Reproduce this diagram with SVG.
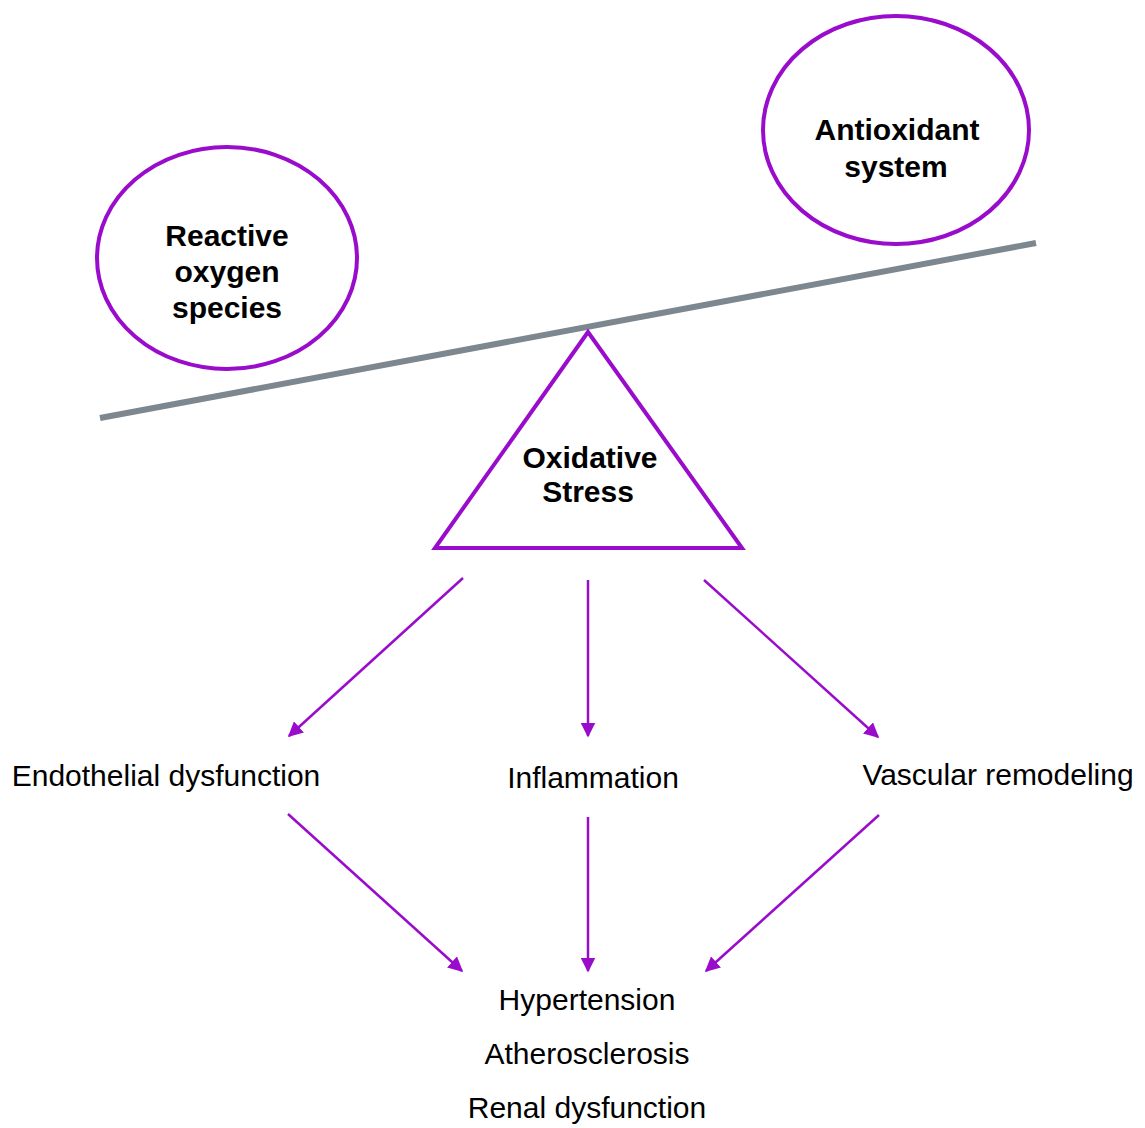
<svg xmlns="http://www.w3.org/2000/svg" width="1145" height="1128" viewBox="0 0 1145 1128">
<defs>
<style>
.node{fill:#fff;stroke:#9a0ccc;stroke-width:4}
.bold{font-family:"Liberation Sans",Arial,sans-serif;font-weight:bold;font-size:30px;fill:#000;text-anchor:middle}
.reg{font-family:"Liberation Sans",Arial,sans-serif;font-size:30px;fill:#000;text-anchor:middle}
.conn{stroke:#9a0ccc;stroke-width:2.5;fill:none;marker-end:url(#ah)}
</style>
<marker id="ah" viewBox="0 0 10 10" refX="9" refY="5" markerWidth="6" markerHeight="6" orient="auto" markerUnits="strokeWidth">
<path d="M0,0 L10,5 L0,10 Z" fill="#9a0ccc"/>
</marker>
</defs>
<rect width="1145" height="1128" fill="#fff"/>
<g id="beam"><line x1="100" y1="418" x2="1036" y2="243" stroke="#7d878f" stroke-width="6"/></g>
<g id="ros"><ellipse class="node" cx="227" cy="258" rx="130" ry="111"/>
<text class="bold" x="227" y="246">Reactive</text><text class="bold" x="227" y="282">oxygen</text><text class="bold" x="227" y="318">species</text></g>
<g id="antioxidant"><ellipse class="node" cx="896" cy="130" rx="133" ry="114"/>
<text class="bold" x="897" y="140">Antioxidant</text><text class="bold" x="896" y="177">system</text></g>
<g id="oxidative"><polygon class="node" points="588,332 435,548 742,548"/>
<text class="bold" x="590" y="468">Oxidative</text><text class="bold" x="588" y="502">Stress</text></g>
<g id="endothelial"><text class="reg" x="166" y="786">Endothelial dysfunction</text></g>
<g id="inflammation"><text class="reg" x="593" y="788">Inflammation</text></g>
<g id="vascular"><text class="reg" x="998" y="785">Vascular remodeling</text></g>
<g id="outcomes"><text class="reg" x="587" y="1010">Hypertension</text><text class="reg" x="587" y="1064">Atherosclerosis</text><text class="reg" x="587" y="1118">Renal dysfunction</text></g>
<g id="connectors">
<line class="conn" x1="463" y1="578" x2="289" y2="736"/>
<line class="conn" x1="588" y1="580" x2="588" y2="736"/>
<line class="conn" x1="704" y1="580" x2="878" y2="737"/>
<line class="conn" x1="288" y1="814" x2="462" y2="971"/>
<line class="conn" x1="588" y1="817" x2="588" y2="971"/>
<line class="conn" x1="879" y1="815" x2="706" y2="971"/>
</g>
</svg>
